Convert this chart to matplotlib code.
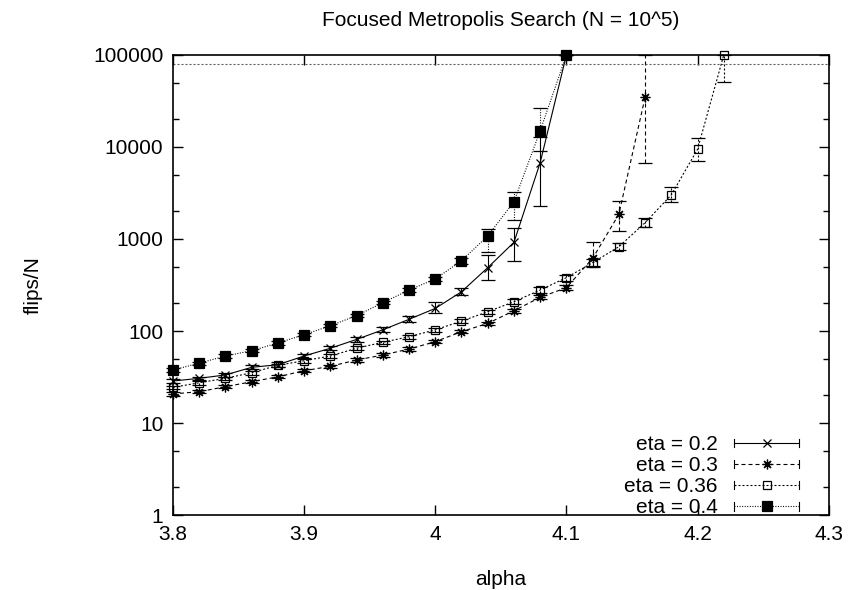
import numpy as np
import matplotlib
matplotlib.use("Agg")
import matplotlib.pyplot as plt
from matplotlib.lines import Line2D
from matplotlib.legend_handler import HandlerLine2D
from matplotlib.ticker import FixedLocator, LogLocator, NullFormatter, FuncFormatter

plt.rcParams["font.family"] = ["Liberation Sans", "DejaVu Sans"]

# data
alpha_02 = [3.80, 3.82, 3.84, 3.86, 3.88, 3.90, 3.92, 3.94, 3.96, 3.98, 4.00,
            4.02, 4.04, 4.06, 4.08, 4.10]
flips_02 = [28.6, 30.6, 33.3, 40.3, 43, 53.5, 64.9, 81, 103, 134, 176,
            267, 488, 920, 6760, 100000]
lo_02 = [27.5, 29.3, 31.8, 38.5, 41, 51, 61.5, 76, 97, 124, 156,
         245, 358, 577, 2300, 100000]
hi_02 = [30, 32, 35, 42.5, 45.5, 56.5, 68.5, 86, 110, 146, 207,
         292, 670, 1306, 12900, 100000]

alpha_03 = [3.80, 3.82, 3.84, 3.86, 3.88, 3.90, 3.92, 3.94, 3.96, 3.98, 4.00,
            4.02, 4.04, 4.06, 4.08, 4.10, 4.12, 4.14, 4.16]
flips_03 = [20.7, 21.9, 24.8, 28.1, 31.8, 37, 41.3, 48.4, 54.8, 63.7, 76.5,
            98.4, 121, 166, 232, 296, 616, 1854, 34700]
lo_03 = [19.9, 21, 23.8, 27, 30.6, 35.6, 39.7, 46.5, 52.6, 61.2, 73.4,
         94.5, 116, 158, 220, 278, 500, 1230, 6650]
hi_03 = [21.6, 22.9, 25.9, 29.3, 33.1, 38.5, 43, 50.4, 57, 66.3, 79.7,
         102.5, 126, 175, 246, 318, 935, 2590, 100000]

alpha_036 = [3.80, 3.82, 3.84, 3.86, 3.88, 3.90, 3.92, 3.94, 3.96, 3.98, 4.00,
             4.02, 4.04, 4.06, 4.08, 4.10, 4.12, 4.14, 4.16, 4.18, 4.20, 4.22]
flips_036 = [24.4, 27.4, 30.6, 35.2, 42.4, 47.5, 53.5, 65, 75.4, 86.7, 103,
             128, 162, 208, 279, 380, 553, 824, 1503, 3016, 9440, 100000]
lo_036 = [23.3, 26.2, 29.2, 33.6, 40.5, 45.4, 51.1, 62, 72, 82.8, 98.3,
          122, 154, 196, 262, 350, 505, 760, 1350, 2500, 7000, 51300]
hi_036 = [25.5, 28.6, 32, 36.8, 44.3, 49.6, 55.9, 68, 78.8, 90.6, 107.7,
          134, 170, 222, 300, 410, 610, 900, 1700, 3700, 12500, 100000]

alpha_04 = [3.80, 3.82, 3.84, 3.86, 3.88, 3.90, 3.92, 3.94, 3.96, 3.98, 4.00,
            4.02, 4.04, 4.06, 4.08, 4.10]
flips_04 = [37.7, 44.7, 53.5, 61.1, 74.1, 91.2, 114, 147, 203, 279, 367,
            581, 1077, 2545, 15000, 100000]
lo_04 = [36.2, 43, 51.5, 58.8, 71.3, 87.8, 110, 141, 195, 268, 352,
         540, 728, 1610, 9000, 100000]
hi_04 = [39.2, 46.5, 55.6, 63.5, 77, 94.8, 119, 153, 211, 290, 383,
         620, 1300, 3270, 26300, 100000]

limit = 80000
labels = ["eta = 0.2", "eta = 0.3", "eta = 0.36", "eta = 0.4"]


class CapHandler(HandlerLine2D):
    # gnuplot style legend sample: line with small caps at both ends
    def create_artists(self, legend, orig_handle, xdescent, ydescent,
                       width, height, fontsize, trans):
        artists = super().create_artists(legend, orig_handle, xdescent, ydescent,
                                         width, height, fontsize, trans)
        yc = (height - ydescent) / 2
        h = 0.3 * height
        for x in (-xdescent, -xdescent + width):
            cap = Line2D([x, x], [yc - h, yc + h], color="black", lw=0.8)
            cap.set_transform(trans)
            artists.append(cap)
        return artists


fig = plt.figure(figsize=(8.65, 5.9), dpi=100)
ax = fig.add_axes([0.2, 0.1271, 0.758, 0.7797])

series = [
    (alpha_02, flips_02, lo_02, hi_02, "-", "x", 6, "black"),
    (alpha_03, flips_03, lo_03, hi_03, (0, (3.6, 2.7)), (8, 2, 0), 7, "black"),
    (alpha_036, flips_036, lo_036, hi_036, (0, (1.8, 1.8)), "s", 5.5, "none"),
    (alpha_04, flips_04, lo_04, hi_04, (0, (0.9, 1.4)), "s", 6.5, "black"),
]

handles = []
for (xs, ys, lo, hi, ls, mk, ms, mfc), lab in zip(series, labels):
    yerr = [np.subtract(ys, lo), np.subtract(hi, ys)]
    line, caps, bars = ax.errorbar(xs, ys, yerr=yerr, color="black", lw=0.8,
                                   ls=ls, marker=mk, ms=ms, mfc=mfc, mec="black",
                                   mew=0.9, capsize=5, capthick=0.8,
                                   elinewidth=0.8, clip_on=False)
    bars[0].set_linestyle(ls)
    handles.append(Line2D([], [], color="black", lw=0.8, ls=ls, marker=mk,
                          ms=ms, mfc=mfc, mec="black", mew=0.9))

ax.axhline(limit, color="0.35", lw=0.8, ls=(0, (1.8, 1.8)))

ax.set_yscale("log")
ax.set_xlim(3.8, 4.3)
ax.set_ylim(1, 100000)
ax.xaxis.set_major_locator(FixedLocator([3.8, 3.9, 4.0, 4.1, 4.2, 4.3]))
ax.xaxis.set_major_formatter(FuncFormatter(lambda v, p: f"{v:g}"))
ax.yaxis.set_major_locator(FixedLocator([1, 10, 100, 1000, 10000, 100000]))
ax.yaxis.set_major_formatter(FuncFormatter(lambda v, p: f"{v:g}"))
ax.yaxis.set_minor_locator(LogLocator(subs=(2, 5)))
ax.yaxis.set_minor_formatter(NullFormatter())
ax.tick_params(which="both", direction="in", top=True, right=True,
               labelsize=15, width=1)
ax.tick_params(which="major", length=7, pad=7)
ax.tick_params(which="minor", length=4)
for s in ax.spines.values():
    s.set_linewidth(1.2)

ax.set_title("Focused Metropolis Search (N = 10^5)", fontsize=15, pad=21)
ax.set_xlabel("alpha", fontsize=15, labelpad=19)
ax.set_ylabel("flips/N", fontsize=15)
ax.yaxis.set_label_coords(-0.199, 0.5)

ax.legend(handles, labels, loc="lower right", bbox_to_anchor=(0.977, -0.037),
          frameon=False, markerfirst=False,
          fontsize=15, handlelength=3.1, handletextpad=0.8, labelspacing=0.1,
          borderaxespad=0.3, handler_map={Line2D: CapHandler()})

fig.savefig("out.png", dpi=100)
